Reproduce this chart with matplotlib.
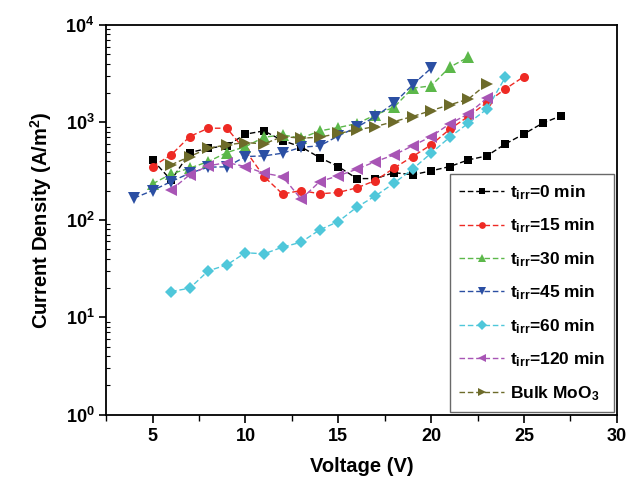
import matplotlib
matplotlib.use("Agg")
import matplotlib.pyplot as plt
from matplotlib.ticker import LogLocator, MultipleLocator, NullFormatter

plt.rcParams['font.family'] = ['Liberation Sans', 'DejaVu Sans']
plt.rcParams['font.weight'] = 'bold'
plt.rcParams['mathtext.default'] = 'regular'

v_0 = list(range(5, 28))
j_0 = [412, 255, 490, 543, 575, 757, 818, 650, 560, 435, 352, 265, 265, 305, 290,
       318, 352, 412, 453, 601, 762, 980, 1167]
v_15 = list(range(5, 26))
j_15 = [352, 464, 716, 871, 871, 514, 278, 184, 200, 185, 191, 213, 253, 339, 446,
        588, 851, 1150, 1600, 2207, 2950]
v_30 = list(range(5, 23))
j_30 = [234, 296, 339, 396, 490, 564, 704, 744, 688, 818, 885, 970, 1194, 1431,
        2244, 2367, 3681, 4667]
v_45 = list(range(4, 21))
j_45 = [167, 200, 247, 301, 347, 350, 446, 453, 483, 556, 574, 727, 892, 1148,
        1573, 2425, 3597]
v_60 = list(range(6, 25))
j_60 = [18.4, 19.9, 30, 34.5, 46, 44.8, 52.5, 59, 79, 96, 135, 176, 238, 331, 483,
        704, 980, 1366, 2910]
v_120 = list(range(6, 24))
j_120 = [203, 290, 358, 387, 352, 301, 278, 163, 247, 283, 331, 396, 464, 574, 716,
         965, 1222, 1771]
v_bulk = list(range(6, 24))
j_bulk = [367, 446, 543, 588, 621, 601, 716, 688, 704, 770, 838, 906, 1019, 1148,
          1321, 1514, 1729, 2483]

series = [
    (v_0, j_0, 's', '#000000', r'$t_{irr}$=0 min', 6),
    (v_15, j_15, 'o', '#ee2a24', r'$t_{irr}$=15 min', 6.5),
    (v_30, j_30, '^', '#5cb84a', r'$t_{irr}$=30 min', 8),
    (v_45, j_45, 'v', '#2b4fa3', r'$t_{irr}$=45 min', 8),
    (v_60, j_60, 'D', '#4fc7da', r'$t_{irr}$=60 min', 6.5),
    (v_120, j_120, '<', '#a855b5', r'$t_{irr}$=120 min', 8),
    (v_bulk, j_bulk, '>', '#6d6b2a', r'Bulk MoO$_3$', 8),
]

fig = plt.figure(figsize=(6.32, 4.88), dpi=100)
ax = fig.add_axes([0.168, 0.150, 0.808, 0.799])

for v, j, m, c, lab, ms in series:
    ax.plot(v, j, linestyle=(0, (4, 2)), linewidth=1, color=c, marker=m,
            markersize=ms, markeredgewidth=0, label=lab)

ax.set_yscale('log')
ax.set_xlim(2.5, 30)
ax.set_ylim(1, 1e4)
ax.xaxis.set_major_locator(MultipleLocator(5))
ax.xaxis.set_minor_locator(MultipleLocator(2.5))
ax.yaxis.set_major_locator(LogLocator(base=10, numticks=10))
ax.yaxis.set_minor_locator(LogLocator(base=10, subs=range(2, 10), numticks=10))
ax.yaxis.set_minor_formatter(NullFormatter())
ax.tick_params(axis='x', which='major', direction='out', length=6, width=1.2,
               labelsize=13)
ax.tick_params(axis='x', which='minor', direction='out', length=4, width=1)
ax.tick_params(axis='y', which='major', direction='out', length=5, width=1.2,
               labelsize=13)
ax.tick_params(axis='y', which='minor', direction='in', length=3, width=0.8)
for s in ax.spines.values():
    s.set_linewidth(1.3)

ax.set_xlabel('Voltage (V)', fontsize=14.5, fontweight='bold', labelpad=9)
ax.set_ylabel('Current Density (A/m$^2$)', fontsize=14.5, fontweight='bold',
              labelpad=8)

leg = ax.legend(loc='lower right', fontsize=12.5, frameon=True, fancybox=False,
                edgecolor='#444444', handlelength=2.6, labelspacing=0.85,
                borderpad=0.55, handletextpad=0.3, markerscale=0.75,
                borderaxespad=0.15)
leg.get_frame().set_linewidth(1)

fig.savefig('out.png', dpi=100)
